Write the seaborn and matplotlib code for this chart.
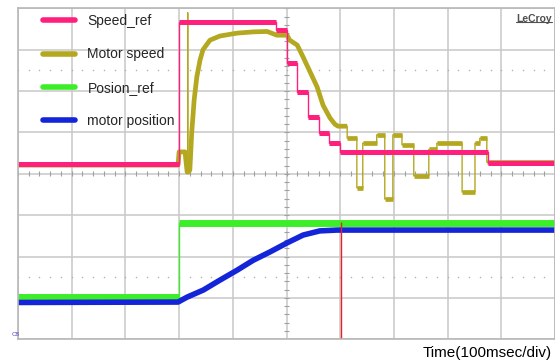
import numpy as np
import pandas as pd
import matplotlib
matplotlib.use("Agg")
import matplotlib.pyplot as plt
import seaborn as sns
from matplotlib.lines import Line2D

# ---- data (time in ms, amplitude in screen divisions) ----
speed_ref_t = [0, 300, 480, 500, 520, 540, 560, 580, 600, 875, 1000]
speed_ref_v = [4.23, 7.67, 7.48, 6.68, 5.98, 5.37, 4.99, 4.75, 4.52, 4.26, 4.26]

motor_speed_t = [0, 298, 300, 311, 315, 316, 316, 316, 317, 320, 323.5, 328, 333, 339,
                 344.5, 357.5, 376, 408, 438, 464, 482, 501, 506, 520, 531, 544, 557,
                 568, 581, 590, 596, 613, 613, 631, 631, 642, 642, 668, 668, 683, 683,
                 698, 698, 715, 715, 737, 737, 765, 765, 780, 780, 827, 827, 851, 851,
                 860, 860, 873, 873, 1000]
motor_speed_v = [4.21, 4.21, 4.53, 4.53, 4.04, 4.04, 7.89, 4.04, 4.04, 4.09, 4.99, 5.78,
                 6.34, 6.75, 7.00, 7.23, 7.33, 7.40, 7.43, 7.44, 7.35, 7.35, 7.23, 7.11,
                 6.82, 6.46, 6.10, 5.66, 5.35, 5.20, 5.15, 5.15, 4.86, 4.86, 3.66, 3.66,
                 4.74, 4.74, 4.94, 4.94, 3.39, 3.39, 4.94, 4.94, 4.70, 4.70, 3.95, 3.95,
                 4.59, 4.59, 4.74, 4.74, 3.56, 3.56, 4.74, 4.74, 4.86, 4.86, 4.28, 4.28]

pos_ref_t = [0, 300, 1000]
pos_ref_v = [1.02, 2.80, 2.80]

motor_pos_t = [0, 298, 315, 345, 376, 408, 438, 469, 501, 531, 562, 594, 1000]
motor_pos_v = [0.89, 0.90, 1.02, 1.19, 1.43, 1.67, 1.91, 2.11, 2.33, 2.52, 2.62, 2.64, 2.64]

cursor_t = 601
cursor_top = 2.84

labels = ["Speed_ref", "Motor speed", "Posion_ref", "motor position"]
colors = ["#ff1f7c", "#b4a820", "#3cee28", "#1424d8"]

# ---- figure ----
sns.set_style("white")
plt.rcParams["font.family"] = ["Liberation Sans", "DejaVu Sans"]

W, H = 555, 363
fig = plt.figure(figsize=(W / 100, H / 100), dpi=100)
ax = fig.add_axes([18 / W, (H - 339.3) / H, 537 / W, 331 / H])
ax.set_xlim(0, 1000)
ax.set_ylim(0, 8)

gcol = "#c8c8c8"
ax.set_xticks(np.arange(0, 1001, 100))
ax.set_yticks(np.arange(0, 9, 1))
ax.tick_params(length=0, labelbottom=False, labelleft=False)
ax.grid(True, color=gcol, lw=1.1)
for s in ax.spines.values():
    s.set_color("#b8b8b8")
    s.set_linewidth(1.2)

# center-line ticks and dotted rows
minor_t = np.arange(0, 1001, 20)
minor_v = np.arange(0, 8.01, 0.2)
ax.vlines(minor_t, 4 - 0.06, 4 + 0.06, color="#a0a0a0", lw=0.8)
ax.hlines(minor_v, 500 - 5, 500 + 5, color="#a0a0a0", lw=0.8)
for yy in (1.5, 6.5):
    ax.scatter(minor_t, np.full(len(minor_t), yy), s=1.2, color="#b0b0b0", lw=0)


def seg_frame(t, v):
    t = np.asarray(t, float)
    seg = np.concatenate([[0], np.cumsum(np.diff(t) == 0)])
    return pd.DataFrame({"t": t, "v": v, "seg": seg})


# motor speed (olive)
ms = seg_frame(motor_speed_t, motor_speed_v)
sns.lineplot(data=ms, x="t", y="v", sort=False, estimator=None, color=colors[1],
             lw=1.0, ax=ax)
sns.lineplot(data=ms, x="t", y="v", units="seg", sort=False, estimator=None,
             color=colors[1], lw=3.4, ax=ax, solid_capstyle="butt")

# speed ref (pink)
sr = pd.DataFrame({"t": speed_ref_t, "v": speed_ref_v})
sns.lineplot(data=sr, x="t", y="v", drawstyle="steps-post", color=colors[0], lw=1.0,
             estimator=None, ax=ax)
ax.hlines(speed_ref_v[:-1], speed_ref_t[:-1], speed_ref_t[1:], color=colors[0], lw=3.6)

# position ref (green)
pr = pd.DataFrame({"t": pos_ref_t, "v": pos_ref_v})
sns.lineplot(data=pr, x="t", y="v", drawstyle="steps-post", color=colors[2], lw=1.0,
             estimator=None, ax=ax)
ax.hlines(pos_ref_v[:-1], pos_ref_t[:-1], pos_ref_t[1:], color=colors[2], lw=5)

# motor position (blue)
mp = pd.DataFrame({"t": motor_pos_t, "v": motor_pos_v})
sns.lineplot(data=mp, x="t", y="v", color=colors[3], lw=4, estimator=None, ax=ax,
             solid_joinstyle="round")

# cursor
ax.vlines(cursor_t, 0, cursor_top, color="#e8202a", lw=1.0)

ax.set_xlabel("")
ax.set_ylabel("")

# legend
handles = [Line2D([], [], color=c, lw=4) for c in colors]
leg = ax.legend(handles, labels, loc="upper left",
                bbox_to_anchor=(43 / W, 1 - 14 / H), bbox_transform=fig.transFigure,
                frameon=False, fontsize=10, handlelength=2.3, handletextpad=0.9,
                labelspacing=1.4, borderpad=0, borderaxespad=0)

ax.text(0.995, 0.983, "LeCroy", transform=ax.transAxes, fontweight="bold",
        ha="right", va="top", fontsize=7.5, color="#505050")
ax.plot([0.928, 0.995], [0.958, 0.958], transform=ax.transAxes, color="#505050", lw=0.8)

fig.text(552 / W, 1 - 353 / H, "Time(100msec/div)", ha="right", va="center",
         fontsize=11, color="black")
fig.text(12 / W, 1 - 334 / H, "C8", ha="left", va="center", fontsize=4.5,
         color="#6040c0")

fig.savefig("out.png", dpi=100)
